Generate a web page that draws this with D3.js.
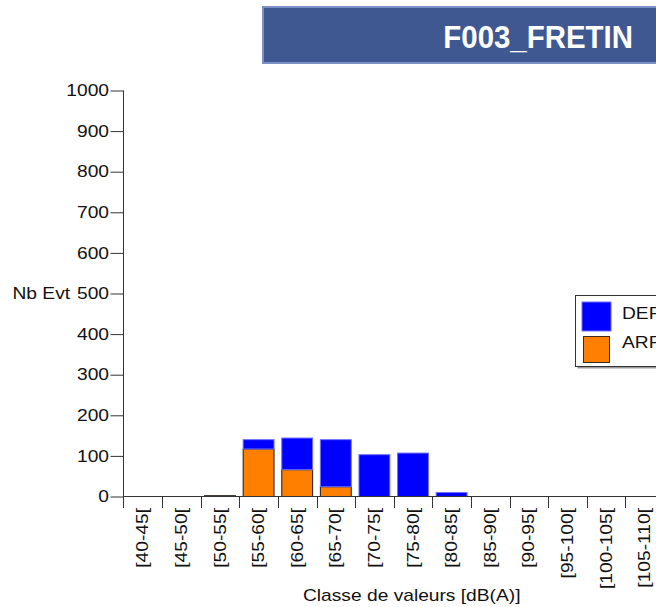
<!DOCTYPE html>
<html><head><meta charset="utf-8">
<script src="https://cdn.jsdelivr.net/npm/d3@7"></script>
<style>
body{margin:0;background:#fff;overflow:hidden;}
svg{display:block;}
text{font-family:"Liberation Sans",Arial,Helvetica,sans-serif;}
</style>
</head><body>
<svg id="c" width="656" height="607"></svg>
<script>
// ---- data ----
const title = "F003_FRETIN";
const categories = ["[40-45[", "[45-50[", "[50-55[", "[55-60[", "[60-65[", "[65-70[", "[70-75[", "[75-80[", "[80-85[", "[85-90[", "[90-95[", "[95-100[", "[100-105[", "[105-110["];
const depValues = [0, 0, 0, 23, 78, 116, 103, 107, 10, 0, 0, 0, 0, 0];
const arrValues = [0, 0, 2, 117, 66, 24, 0, 0, 0, 0, 0, 0, 0, 0];
const yTicks = [0, 100, 200, 300, 400, 500, 600, 700, 800, 900, 1000];
const seriesNames = ["DEP", "ARR"];
const seriesColors = ["#0000ff", "#ff8000"];
const yTitle = "Nb Evt";
const xTitle = "Classe de valeurs [dB(A)]";

// ---- layout ----
const svg = d3.select("#c");
const SX = 1.2; // horizontal text stretch of the original renderer
const x0 = 123.5, step = 38.6;
const x = d3.scaleBand().domain(categories).range([x0, x0 + categories.length * step]);
const xb = d3.scaleBand().domain(categories).range(x.range()).paddingInner(0.2).paddingOuter(0.1);
const y = d3.scaleLinear().domain([0, 1000]).range([496.5, 90.5]);
const axisColor = "#333";

// title banner
svg.append("rect").attr("x", 263).attr("y", 7).attr("width", 420).attr("height", 56)
  .attr("fill", "#3f5891").attr("stroke", "#7b91c6").attr("stroke-width", 2);
svg.append("text").attr("transform", "translate(633,47.5) scale(0.92,1)").attr("text-anchor", "end")
  .attr("fill", "#fff").attr("font-weight", "bold").attr("font-size", 32).text(title);

// bars
const rows = categories.map((c, i) => ({c, arr: arrValues[i], dep: depValues[i]}));
svg.append("g").selectAll("rect").data(rows.filter(d => d.arr > 0)).join("rect")
  .attr("x", d => xb(d.c)).attr("width", xb.bandwidth())
  .attr("y", d => y(d.arr)).attr("height", d => y(0) - y(d.arr))
  .attr("fill", seriesColors[1]).attr("stroke", "#1a1a1a").attr("stroke-width", 1);
svg.append("g").selectAll("rect").data(rows.filter(d => d.dep > 0)).join("rect")
  .attr("x", d => xb(d.c)).attr("width", xb.bandwidth())
  .attr("y", d => y(d.arr + d.dep)).attr("height", d => y(d.arr) - y(d.arr + d.dep))
  .attr("fill", seriesColors[0]).attr("stroke", "#7070ff").attr("stroke-width", 1);

// y axis
const yAxis = svg.append("g").attr("transform", `translate(${x0},0)`)
  .call(d3.axisLeft(y).tickValues(yTicks).tickSize(13).tickSizeOuter(0).tickFormat(""));
yAxis.select(".domain").remove();
yAxis.selectAll(".tick line").attr("stroke", axisColor);
svg.append("line").attr("x1", x0).attr("x2", x0).attr("y1", y(1000)).attr("y2", 508)
  .attr("stroke", axisColor);
svg.append("g").selectAll("text").data(yTicks).join("text")
  .attr("transform", d => `translate(109,${y(d)}) scale(${SX},1)`)
  .attr("text-anchor", "end").attr("dy", "0.35em").attr("font-size", 16).attr("fill", "#111")
  .text(d => d);
svg.append("text").attr("transform", `translate(12.5,${y(500)}) scale(${SX},1)`)
  .attr("dy", "0.35em").attr("font-size", 16).attr("fill", "#111").text(yTitle);

// x axis
svg.append("line").attr("x1", x0).attr("x2", 660).attr("y1", y(0)).attr("y2", y(0)).attr("stroke", axisColor);
const bounds = categories.map(c => x(c) + x.bandwidth());
svg.append("g").selectAll("line").data(bounds).join("line")
  .attr("x1", d => Math.round(d) + 0.5).attr("x2", d => Math.round(d) + 0.5)
  .attr("y1", y(0)).attr("y2", 508).attr("stroke", axisColor);
svg.append("g").selectAll("text").data(categories).join("text")
  .attr("transform", d => `translate(${x(d) + x.bandwidth() / 2},508) rotate(-90) scale(${SX},1)`)
  .attr("text-anchor", "end").attr("dy", "0.35em").attr("font-size", 16).attr("fill", "#111")
  .text(d => d);
svg.append("text").attr("transform", `translate(303,600.5) scale(${SX},1)`)
  .attr("font-size", 16).attr("fill", "#111").text(xTitle);

// legend
const lg = svg.append("g");
lg.append("rect").attr("x", 577.5).attr("y", 297.5).attr("width", 120).attr("height", 71).attr("fill", "#999");
lg.append("rect").attr("x", 575.5).attr("y", 295.5).attr("width", 120).attr("height", 71)
  .attr("fill", "#fff").attr("stroke", "#333");
const sw = [{y: 302, s: 29, stroke: "#6f6fff", dx: 582}, {y: 336.5, s: 26, stroke: "#3a2a1a", dx: 583.5}];
lg.selectAll("rect.sw").data(seriesNames).join("rect").attr("class", "sw")
  .attr("x", (d, i) => sw[i].dx).attr("y", (d, i) => sw[i].y)
  .attr("width", (d, i) => sw[i].s).attr("height", (d, i) => sw[i].s)
  .attr("fill", (d, i) => seriesColors[i]).attr("stroke", (d, i) => sw[i].stroke);
lg.selectAll("text").data(seriesNames).join("text")
  .attr("transform", (d, i) => `translate(622,${[313.5, 342.5][i]}) scale(${SX},1)`)
  .attr("dy", "0.35em").attr("font-size", 16).attr("fill", "#111").text(d => d);
</script>
</body></html>
